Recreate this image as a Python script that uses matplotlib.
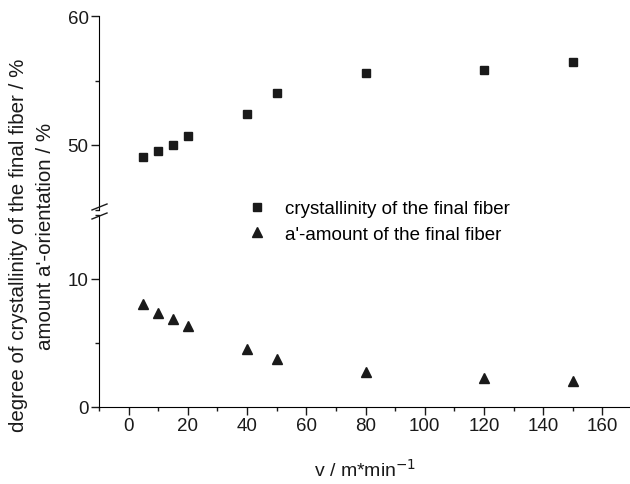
import matplotlib
matplotlib.use('Agg')
import matplotlib.pyplot as plt
from matplotlib.ticker import MultipleLocator

plt.rcParams['font.family'] = ['Liberation Sans', 'DejaVu Sans']

# ================= data =================
speed = [5, 10, 15, 20, 40, 50, 80, 120, 150]
crystallinity = [49.1, 49.5, 50.0, 50.7, 52.4, 54.0, 55.6, 55.8, 56.4]
a_amount = [8.05, 7.35, 6.9, 6.35, 4.55, 3.75, 2.75, 2.25, 2.05]

W, H = 630, 485
FS = 13.5
INK = '#1a1a1a'
fig = plt.figure(figsize=(W / 100, H / 100), dpi=100)

left, right = 99 / W, 632 / W
ax_low = fig.add_axes([left, 1 - 408 / H, right - left, (408 - 216) / H])
ax_up = fig.add_axes([left, 1 - 210.5 / H, right - left, (210.5 - 17) / H])

for ax in (ax_low, ax_up):
    ax.spines['top'].set_visible(False)
    ax.spines['right'].set_visible(False)
    ax.set_xlim(-10, 170)
    ax.xaxis.set_major_locator(MultipleLocator(20))
    ax.xaxis.set_minor_locator(MultipleLocator(10))
    ax.yaxis.set_major_locator(MultipleLocator(10))
    ax.yaxis.set_minor_locator(MultipleLocator(5))
    ax.tick_params(which='major', direction='out', length=5.5, width=1, labelsize=FS,
                   colors=INK, pad=2)
    ax.tick_params(which='minor', direction='out', length=3, width=1, colors=INK)
    ax.patch.set_alpha(0)

ax_up.spines['bottom'].set_visible(False)
ax_up.tick_params(axis='x', which='both', bottom=False, labelbottom=False)

ax_low.set_ylim(0, 15)
ax_up.set_ylim(45, 60)

h1, = ax_up.plot(speed, crystallinity, 's', color=INK, ms=6, linestyle='none',
                 label='crystallinity of the final fiber')
h2, = ax_low.plot(speed, a_amount, '^', color=INK, ms=7, linestyle='none',
                  label="a'-amount of the final fiber")

# break marks on the y axis
for yb in (208, 217):
    yf = 1 - yb / H
    fig.add_artist(plt.Line2D([92 / W, 107 / W], [yf - 3 / H, yf + 3 / H],
                              color=INK, lw=1))

fig.legend(handles=[h1, h2], loc='center left', bbox_to_anchor=(234 / W, 1 - 222.5 / H),
           frameon=False, fontsize=FS, handletextpad=0.7, labelspacing=0.45,
           handlelength=1.5, borderpad=0)

fig.text(19 / W, 1 - 245 / H, "degree of crystallinity of the final fiber / %",
         rotation=90, ha='center', va='center', fontsize=14.8, color=INK)
fig.text(46 / W, 1 - 236 / H, "amount a'-orientation / %",
         rotation=90, ha='center', va='center', fontsize=14.8, color=INK)
ax_low.set_xlabel('v / m*min$^{-1}$', fontsize=14, color=INK, labelpad=17)

plt.savefig('out.png', dpi=100)
